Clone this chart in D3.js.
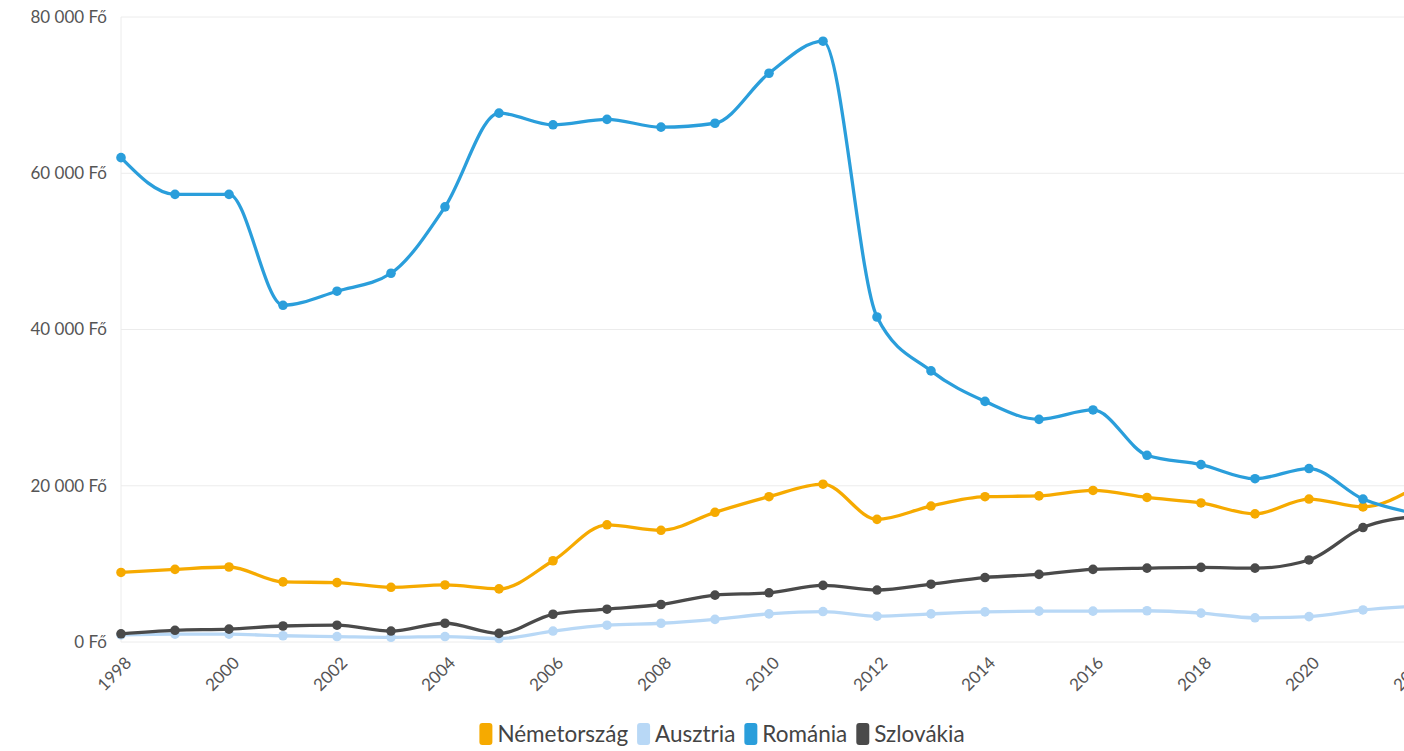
<!DOCTYPE html>
<html>
<head>
<meta charset="utf-8">
<script src="https://cdn.jsdelivr.net/npm/d3@7"></script>
<style>
  html, body { margin: 0; padding: 0; background: #fff; }
  svg { display: block; font-family: "Source Sans Pro", Lato, "Noto Sans", sans-serif; }
</style>
</head>
<body>
<svg id="chart" width="1404" height="751"></svg>
<script>
const years = [1998,1999,2000,2001,2002,2003,2004,2005,2006,2007,2008,2009,2010,2011,2012,2013,2014,2015,2016,2017,2018,2019,2020,2021,2022];
const seriesNames = ["Németország","Ausztria","Románia","Szlovákia"];
const seriesColors = ["#f6aa00","#b8d8f6","#2a9edb","#4a4a4a"];
const nemetorszag = [8900,9300,9600,7700,7600,7000,7300,6800,10400,15000,14300,16600,18600,20200,15700,17400,18600,18700,19400,18500,17800,16400,18300,17300,19900];
const ausztria    = [900,1000,1000,800,700,600,700,450,1400,2150,2400,2900,3600,3900,3300,3600,3850,3950,3950,4000,3700,3100,3250,4100,4600];
const romania     = [62000,57300,57300,43100,44900,47200,55700,67700,66200,66900,65900,66400,72800,76900,41600,34700,30800,28500,29700,23900,22700,20900,22200,18300,16400];
const szlovakia   = [1050,1500,1650,2050,2150,1400,2400,1100,3550,4200,4800,6000,6300,7250,6650,7400,8250,8650,9300,9450,9550,9450,10500,14650,16100];
const yTicks = [0,20000,40000,60000,80000];
const xTicks = [1998,2000,2002,2004,2006,2008,2010,2012,2014,2016,2018,2020,2022];

const seriesValues = [nemetorszag, ausztria, romania, szlovakia];

const W = 1404, H = 751;
const svg = d3.select("#chart");
const x = d3.scaleLinear().domain([1998, 2022]).range([121, 1417]);
const y = d3.scaleLinear().domain([0, 80000]).range([642, 17]);
const fmt = v => d3.format(",")(v).replace(/,/g, " ") + " Fő";

// gridlines
const grid = svg.append("g");
grid.selectAll("line.h").data(yTicks).join("line")
  .attr("x1", x(1998)).attr("x2", W)
  .attr("y1", d => y(d)).attr("y2", d => y(d))
  .attr("stroke", "#ececec").attr("stroke-width", 1);
grid.append("line")
  .attr("x1", x(1998)).attr("x2", x(1998))
  .attr("y1", y(80000)).attr("y2", y(0))
  .attr("stroke", "#ececec").attr("stroke-width", 1);

// y axis labels
const yAxis = d3.axisLeft(y).tickValues(yTicks).tickFormat(fmt).tickSize(0).tickPadding(14);
const yg = svg.append("g").attr("transform", `translate(${x(1998)},0)`).call(yAxis);
yg.select(".domain").remove();
yg.selectAll("text").attr("fill", "#555").style("font-size", "17px")
  .style("font-family", "\"Source Sans Pro\", Lato, sans-serif");

// x axis labels
const xAxis = d3.axisBottom(x).tickValues(xTicks).tickFormat(d3.format("d")).tickSize(0).tickPadding(0);
const xg = svg.append("g").attr("transform", `translate(0,${y(0)})`).call(xAxis);
xg.select(".domain").remove();
xg.selectAll("text").attr("fill", "#555").style("font-size", "17px")
  .style("font-family", "\"Source Sans Pro\", Lato, sans-serif")
  .attr("text-anchor", "end")
  .attr("dy", "0")
  .attr("transform", "translate(11,22) rotate(-45)");

// lines
const line = d3.line().x((d, i) => x(years[i])).y(d => y(d)).curve(d3.curveMonotoneX);
const sg = svg.append("g");
seriesValues.forEach((vals, si) => {
  const g = sg.append("g");
  g.append("path").datum(vals).attr("d", line)
    .attr("fill", "none").attr("stroke", seriesColors[si]).attr("stroke-width", 3.3)
    .attr("stroke-linejoin", "round").attr("stroke-linecap", "round");
  g.selectAll("circle").data(vals).join("circle")
    .attr("cx", (d, i) => x(years[i])).attr("cy", d => y(d)).attr("r", 4.8)
    .attr("fill", seriesColors[si]);
});

// legend
const legend = svg.append("g");
let lx = 0;
seriesNames.forEach((name, i) => {
  const it = legend.append("g");
  it.append("rect").attr("x", 0).attr("y", -11).attr("width", 13).attr("height", 22)
    .attr("rx", 3).attr("fill", seriesColors[i]);
  const t = it.append("text").attr("x", 18).attr("y", 0).attr("dy", "0.35em")
    .attr("fill", "#444").style("font-size", "22.5px").text(name);
  const w = 18 + t.node().getComputedTextLength();
  it.attr("transform", `translate(${lx},0)`);
  lx += w + 9;
});
lx -= 9;
legend.attr("transform", `translate(${(W - lx) / 2 + 20},734)`);
</script>
</body>
</html>
